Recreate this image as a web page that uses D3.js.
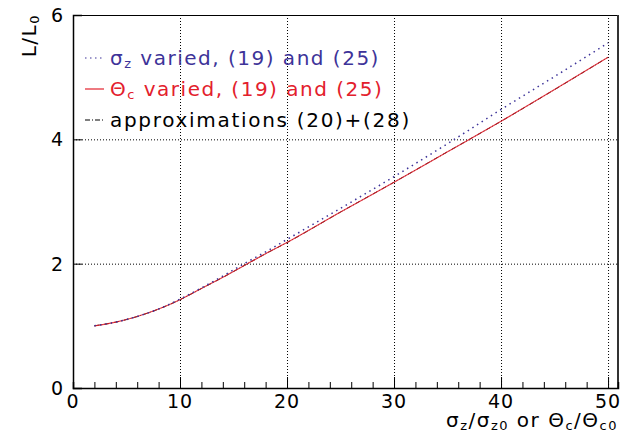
<!DOCTYPE html>
<html>
<head>
<meta charset="utf-8">
<script src="https://cdn.jsdelivr.net/npm/d3@7"></script>
<style>
  body { margin: 0; background: #fff; }
  text { font-family: "DejaVu Sans", "Liberation Sans", sans-serif; }
</style>
</head>
<body>
<svg id="chart" width="629" height="435"></svg>
<script>
"use strict";

// ratio sigma_z/sigma_z0 (or Theta_c/Theta_c0)
const ratio     = [2, 4, 6, 8, 10, 12, 14, 16, 18, 20, 25, 30, 35, 40, 45, 50];
const sigmaVar  = [1.00, 1.06, 1.15, 1.27, 1.43, 1.61, 1.80, 2.00, 2.19, 2.39, 2.89, 3.40, 3.93, 4.48, 5.01, 5.55];
const thetaVar  = [1.00, 1.06, 1.15, 1.27, 1.42, 1.60, 1.78, 1.97, 2.16, 2.34, 2.83, 3.31, 3.80, 4.29, 4.80, 5.32];
const approxVal = [1.00, 1.06, 1.15, 1.27, 1.42, 1.60, 1.78, 1.97, 2.16, 2.34, 2.83, 3.31, 3.80, 4.29, 4.80, 5.32];

const xTicks = [0, 10, 20, 30, 40, 50];
const yTicks = [0, 2, 4, 6];

const legendRows = [
  { label: "σ", sub: "z", rest: " varied, (19) and (25)", color: "#3d3399", dash: "1.5,3.5", ls: 1.5 },
  { label: "Θ", sub: "c", rest: " varied, (19) and (25)", color: "#e3202c", dash: null, ls: 1.5 },
  { label: "approximations (20)+(28)", sub: null, rest: "", color: "#000", dash: "5,2,1,2", ls: 1.7 }
];

const svg = d3.select("#chart");
const m = { l: 73, r: 618, t: 15, b: 388 };

const x = d3.scaleLinear().domain([0, 50.93]).range([m.l, m.r]);
const y = d3.scaleLinear().domain([0, 6]).range([m.b, m.t]);

// grid (dotted)
const grid = svg.append("g").attr("stroke", "#000").attr("stroke-width", 1).attr("stroke-dasharray", "1,2");
xTicks.filter(d => d > 0).forEach(d => {
  grid.append("line").attr("x1", x(d) + 0.5).attr("x2", x(d) + 0.5).attr("y1", m.t).attr("y2", m.b);
});
yTicks.filter(d => d > 0 && d < 6).forEach(d => {
  grid.append("line").attr("x1", m.l).attr("x2", m.r).attr("y1", y(d) + 0.5).attr("y2", y(d) + 0.5);
});

// frame
svg.append("line").attr("x1", m.l).attr("x2", m.r).attr("y1", m.t + 0.5).attr("y2", m.t + 0.5).attr("stroke", "#000");
svg.append("line").attr("x1", m.r).attr("x2", m.r).attr("y1", m.t).attr("y2", m.b).attr("stroke", "#333").attr("stroke-width", 2);

// axes with inward ticks
const xAxis = svg.append("g").attr("transform", `translate(0,${m.b})`)
  .call(d3.axisBottom(x).tickValues(d3.range(0, 51, 2)).tickSize(-6).tickFormat(""));
xAxis.select(".domain").attr("stroke-width", 1.5);
xAxis.selectAll(".tick line").filter(d => d % 10 === 0).attr("y2", -11);

const yAxis = svg.append("g").attr("transform", `translate(${m.l},0)`)
  .call(d3.axisLeft(y).tickValues(yTicks).tickSize(-9).tickFormat(""));
yAxis.select(".domain").attr("stroke-width", 1.5);

// tick labels
svg.append("g").selectAll("text").data(xTicks).join("text")
  .attr("x", d => x(d)).attr("y", 408).attr("text-anchor", "middle")
  .attr("font-size", 19).attr("letter-spacing", 1).text(d => d);
svg.append("g").selectAll("text").data(yTicks).join("text")
  .attr("x", 63).attr("y", d => y(d) + 7).attr("text-anchor", "end")
  .attr("font-size", 19).text(d => d);

// axis titles
const xt = svg.append("text").attr("x", 618).attr("y", 427).attr("text-anchor", "end")
  .attr("font-size", 20).attr("letter-spacing", 1.5);
xt.append("tspan").text("σ");
xt.append("tspan").attr("font-size", 13).attr("dy", 3).text("z");
xt.append("tspan").attr("dy", -3).text("/σ");
xt.append("tspan").attr("font-size", 13).attr("dy", 3).text("z0");
xt.append("tspan").attr("dy", -3).text(" or Θ");
xt.append("tspan").attr("font-size", 13).attr("dy", 3).text("c");
xt.append("tspan").attr("dy", -3).text("/Θ");
xt.append("tspan").attr("font-size", 13).attr("dy", 3).text("c0");

const yt = svg.append("text").attr("transform", "translate(36,14) rotate(-90)")
  .attr("text-anchor", "end").attr("font-size", 20).attr("letter-spacing", 1.5);
yt.append("tspan").text("L/L");
yt.append("tspan").attr("font-size", 13).attr("dy", 3).text("0");

// curves
const line = vals => d3.line().x((d, i) => x(ratio[i])).y(d => y(d)).curve(d3.curveMonotoneX)(vals);

svg.append("path").attr("d", line(approxVal)).attr("fill", "none")
  .attr("stroke", "#000").attr("stroke-width", 1).attr("stroke-dasharray", "5,2,1,2");
svg.append("path").attr("d", line(thetaVar)).attr("fill", "none")
  .attr("stroke", "#e3202c").attr("stroke-width", 1.2).attr("opacity", 0.85);
svg.append("path").attr("d", line(sigmaVar)).attr("fill", "none")
  .attr("stroke", "#3d3399").attr("stroke-width", 1.5).attr("stroke-dasharray", "1.5,4");

// legend
legendRows.forEach((r, i) => {
  const cy = 58 + i * 31;
  svg.append("line").attr("x1", 85).attr("x2", 104).attr("y1", cy).attr("y2", cy)
    .attr("stroke", r.color).attr("stroke-width", 1.2).attr("stroke-dasharray", r.dash);
  const t = svg.append("text").attr("x", 110).attr("y", cy + 7).attr("font-size", 20)
    .attr("letter-spacing", r.ls).attr("fill", r.color);
  t.append("tspan").text(r.label);
  if (r.sub) {
    t.append("tspan").attr("font-size", 13).attr("dy", 3).text(r.sub);
    t.append("tspan").attr("dy", -3).text(r.rest);
  }
});
</script>
</body>
</html>
